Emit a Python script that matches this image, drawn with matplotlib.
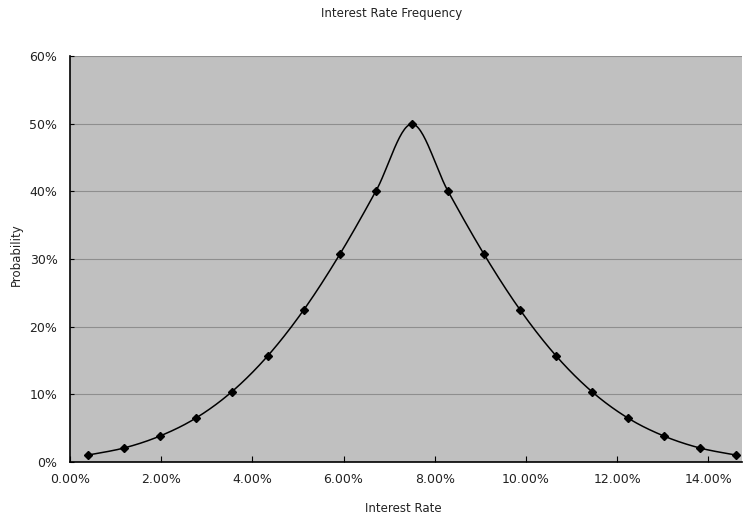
import numpy as np
import matplotlib
matplotlib.use("Agg")
import matplotlib.pyplot as plt
from matplotlib.ticker import FuncFormatter, MultipleLocator

# bin midpoints (0-15% split into 19 bins) and their probabilities
rates = [(i + 0.5) * 0.15 / 19 for i in range(19)]
probs = [0.0103, 0.0207, 0.0384, 0.0650, 0.1040, 0.1572, 0.2252, 0.3073, 0.4004, 0.4994,
         0.4004, 0.3073, 0.2252, 0.1572, 0.1040, 0.0650, 0.0384, 0.0207, 0.0103]


def smooth(x, y, n=30):
    # catmull-rom style bezier smoothing through every point
    x = np.asarray(x)
    y = np.asarray(y)
    px = np.concatenate([[x[0]], x, [x[-1]]])
    py = np.concatenate([[y[0]], y, [y[-1]]])
    xs, ys = [], []
    t = np.linspace(0, 1, n)
    for i in range(1, len(px) - 2):
        p0 = np.array([px[i], py[i]])
        p3 = np.array([px[i + 1], py[i + 1]])
        c1 = p0 + (np.array([px[i + 1], py[i + 1]]) - np.array([px[i - 1], py[i - 1]])) / 6
        c2 = p3 - (np.array([px[i + 2], py[i + 2]]) - np.array([px[i], py[i]])) / 6
        b = ((1 - t) ** 3)[:, None] * p0 + (3 * (1 - t) ** 2 * t)[:, None] * c1 \
            + (3 * (1 - t) * t ** 2)[:, None] * c2 + (t ** 3)[:, None] * p3
        xs.extend(b[:, 0])
        ys.extend(b[:, 1])
    return xs, ys


fig = plt.figure(figsize=(7.44, 5.19), dpi=100)
ax = fig.add_axes([70 / 744, 1 - 462 / 519, 672 / 744, 406 / 519])
ax.set_facecolor('#c0c0c0')

sx, sy = smooth(rates, probs)
ax.plot(sx, sy, color='black', lw=1.1, zorder=3)
ax.plot(rates, probs, 'D', color='black', ms=4.5, zorder=4)

ax.set_xlim(0, 0.1474)
ax.set_ylim(0, 0.6)
ax.xaxis.set_major_locator(MultipleLocator(0.02))
ax.yaxis.set_major_locator(MultipleLocator(0.1))
ax.xaxis.set_major_formatter(FuncFormatter(lambda v, p: f'{v * 100:.2f}%'))
ax.yaxis.set_major_formatter(FuncFormatter(lambda v, p: f'{v * 100:.0f}%'))
ax.yaxis.grid(True, color='#8e8e8e', lw=0.8)
ax.set_axisbelow(True)

for s in ['top', 'right']:
    ax.spines[s].set_visible(False)
for s in ['left', 'bottom']:
    ax.spines[s].set_color('black')
    ax.spines[s].set_linewidth(1.2)

ax.tick_params(axis='x', direction='in', length=4, labelsize=9, pad=8, colors='black', labelcolor='#222222')
ax.tick_params(axis='y', direction='in', length=3, labelsize=9, pad=9, colors='black', labelcolor='#222222')

fig.text(392 / 744, 1 - 13 / 519, 'Interest Rate Frequency', ha='center', va='center', fontsize=8.5, color='#222222')
fig.text(403 / 744, 1 - 508 / 519, 'Interest Rate', ha='center', va='center', fontsize=8.5, color='#222222')
fig.text(16 / 744, 1 - 255 / 519, 'Probability', ha='center', va='center', rotation=90, fontsize=8.5, color='#222222')

fig.savefig('out.png', dpi=100)
